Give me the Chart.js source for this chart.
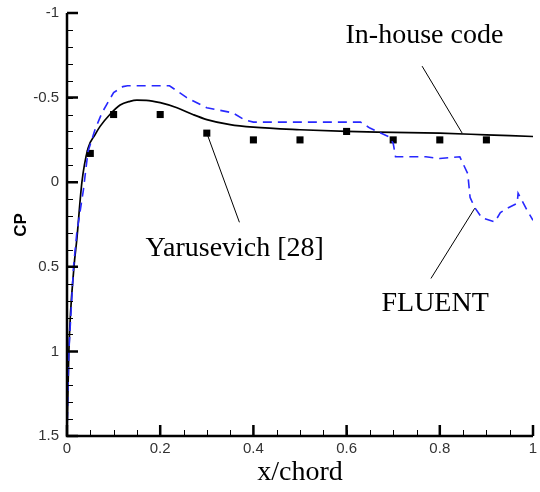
<!DOCTYPE html>
<html>
<head>
<meta charset="utf-8">
<script src="https://cdn.jsdelivr.net/npm/chart.js@4"></script>
<style>
  html, body { margin: 0; padding: 0; background: #fff; }
  #wrap { position: relative; width: 540px; height: 492px; }
</style>
</head>
<body>
<div id="wrap"><canvas id="cp"></canvas></div>
<script>
// In-house code (solid black)
const inHouseX = [0, 0.004, 0.015, 0.021, 0.032, 0.045, 0.06, 0.071, 0.092, 0.114, 0.135, 0.15, 0.17, 0.2, 0.236, 0.27, 0.3, 0.35, 0.4, 0.5, 0.6, 0.7, 0.8, 0.9, 1.0];
const inHouseCp = [1.5, 1.0, 0.5, 0.34, 0.0, -0.2, -0.28, -0.33, -0.4, -0.456, -0.478, -0.485, -0.484, -0.47, -0.44, -0.4, -0.37, -0.34, -0.325, -0.31, -0.30, -0.295, -0.29, -0.28, -0.27];

// FLUENT (dashed blue)
const fluentX = [0, 0.004, 0.014, 0.021, 0.035, 0.045, 0.06, 0.075, 0.1, 0.12, 0.13, 0.22, 0.257, 0.3, 0.356, 0.38, 0.4, 0.63, 0.65, 0.69, 0.70, 0.705, 0.77, 0.80, 0.843, 0.86, 0.865, 0.875, 0.89, 0.918, 0.93, 0.944, 0.966, 0.968, 0.987, 1.0];
const fluentCp = [1.5, 1.0, 0.5, 0.3, 0.05, -0.18, -0.31, -0.41, -0.53, -0.565, -0.57, -0.57, -0.5, -0.44, -0.41, -0.37, -0.355, -0.355, -0.32, -0.27, -0.23, -0.15, -0.15, -0.14, -0.15, -0.05, 0.09, 0.15, 0.21, 0.235, 0.18, 0.155, 0.125, 0.065, 0.165, 0.225];

// Yarusevich [28] (squares)
const yarX = [0.05, 0.1, 0.2, 0.3, 0.4, 0.5, 0.6, 0.7, 0.8, 0.9];
const yarCp = [-0.17, -0.40, -0.40, -0.29, -0.25, -0.25, -0.30, -0.25, -0.25, -0.25];

// axis ticks
const xMajor = [0, 0.2, 0.4, 0.6, 0.8, 1];
const xMajorLabels = ["0", "0.2", "0.4", "0.6", "0.8", "1"];
const xMinorStep = 0.05;
const yMajor = [-1, -0.5, 0, 0.5, 1, 1.5];
const yMajorLabels = ["-1", "-0.5", "0", "0.5", "1", "1.5"];
const yMinorStep = 0.1;

// annotations: text anchor and leader line, in data coords
const notes = [
  { text: "In-house code", x: 0.767, y: -0.82, from: [0.762, -0.686], to: [0.848, -0.29] },
  { text: "Yarusevich [28]", x: 0.36, y: 0.437, from: [0.3, -0.29], to: [0.37, 0.237] },
  { text: "FLUENT", x: 0.79, y: 0.76, from: [0.781, 0.569], to: [0.875, 0.154] }
];

const toPts = (xs, ys) => xs.map((x, i) => ({ x: x, y: ys[i] }));

const axesPlugin = {
  id: "axesPlugin",
  afterDatasetsDraw(chart) {
    const ctx = chart.ctx;
    const xs = chart.scales.x, ys = chart.scales.y;
    const a = chart.chartArea;
    const x0 = xs.getPixelForValue(0), y0 = ys.getPixelForValue(1.5);
    ctx.save();
    ctx.strokeStyle = "#000";

    // minor ticks
    ctx.lineWidth = 1;
    ctx.beginPath();
    for (let i = 0; i <= 20; i++) {
      const px = Math.round(xs.getPixelForValue(i * xMinorStep)) + 0.5;
      ctx.moveTo(px, y0);
      ctx.lineTo(px, y0 - 6);
    }
    for (let i = 0; i <= 25; i++) {
      const py = Math.round(ys.getPixelForValue(-1 + i * yMinorStep)) + 0.5;
      ctx.moveTo(x0, py);
      ctx.lineTo(x0 + 6, py);
    }
    ctx.stroke();

    // major ticks
    ctx.lineWidth = 2.5;
    ctx.beginPath();
    xMajor.forEach(v => {
      const px = xs.getPixelForValue(v);
      ctx.moveTo(px, y0);
      ctx.lineTo(px, y0 - 11);
    });
    yMajor.forEach(v => {
      const py = ys.getPixelForValue(v);
      ctx.moveTo(x0, py);
      ctx.lineTo(x0 + 11, py);
    });
    ctx.stroke();

    // axis lines
    ctx.lineWidth = 2.5;
    ctx.beginPath();
    ctx.moveTo(x0, a.top);
    ctx.lineTo(x0, y0);
    ctx.lineTo(a.right, y0);
    ctx.stroke();

    // tick labels
    ctx.fillStyle = "#333";
    ctx.font = "15px Arial, 'Liberation Sans', sans-serif";
    ctx.textAlign = "center";
    ctx.textBaseline = "top";
    xMajor.forEach((v, i) => ctx.fillText(xMajorLabels[i], xs.getPixelForValue(v), y0 + 5));
    ctx.textAlign = "right";
    ctx.textBaseline = "middle";
    yMajor.forEach((v, i) => ctx.fillText(yMajorLabels[i], x0 - 8, ys.getPixelForValue(v)));

    // axis titles
    ctx.fillStyle = "#000";
    ctx.font = "28px 'Liberation Serif', 'Times New Roman', serif";
    ctx.textAlign = "center";
    ctx.textBaseline = "alphabetic";
    ctx.fillText("x/chord", (a.left + a.right) / 2, 480);
    ctx.save();
    ctx.translate(21, 225);
    ctx.rotate(-Math.PI / 2);
    ctx.font = "bold 17px Arial, 'Liberation Sans', sans-serif";
    ctx.textBaseline = "middle";
    ctx.fillText("CP", 0, 0);
    ctx.restore();

    // annotations
    ctx.lineWidth = 1;
    notes.forEach(n => {
      ctx.beginPath();
      ctx.moveTo(xs.getPixelForValue(n.from[0]), ys.getPixelForValue(n.from[1]));
      ctx.lineTo(xs.getPixelForValue(n.to[0]), ys.getPixelForValue(n.to[1]));
      ctx.stroke();
      ctx.font = "28px 'Liberation Serif', 'Times New Roman', serif";
      ctx.textAlign = "center";
      ctx.textBaseline = "alphabetic";
      ctx.fillText(n.text, xs.getPixelForValue(n.x), ys.getPixelForValue(n.y));
    });
    ctx.restore();
  }
};

new Chart(document.getElementById("cp"), {
  type: "scatter",
  data: {
    datasets: [
      {
        label: "FLUENT",
        data: toPts(fluentX, fluentCp),
        showLine: true,
        borderColor: "rgb(40,40,255)",
        borderWidth: 1.6,
        borderDash: [9, 6],
        pointRadius: 0,
        tension: 0
      },
      {
        label: "In-house code",
        data: toPts(inHouseX, inHouseCp),
        showLine: true,
        borderColor: "#000",
        borderWidth: 1.7,
        pointRadius: 0,
        cubicInterpolationMode: "monotone"
      },
      {
        label: "Yarusevich [28]",
        data: toPts(yarX, yarCp),
        showLine: false,
        pointStyle: "rect",
        pointRadius: 5,
        backgroundColor: "#000",
        borderColor: "#000",
        borderWidth: 0
      }
    ]
  },
  options: {
    responsive: true,
    maintainAspectRatio: false,
    animation: false,
    layout: { padding: { left: 67, right: 7, top: 13, bottom: 56 } },
    plugins: {
      legend: { display: false },
      tooltip: { enabled: false }
    },
    scales: {
      x: { type: "linear", min: 0, max: 1, display: false },
      y: { type: "linear", min: -1, max: 1.5, reverse: true, display: false }
    }
  },
  plugins: [axesPlugin]
});
</script>
</body>
</html>
